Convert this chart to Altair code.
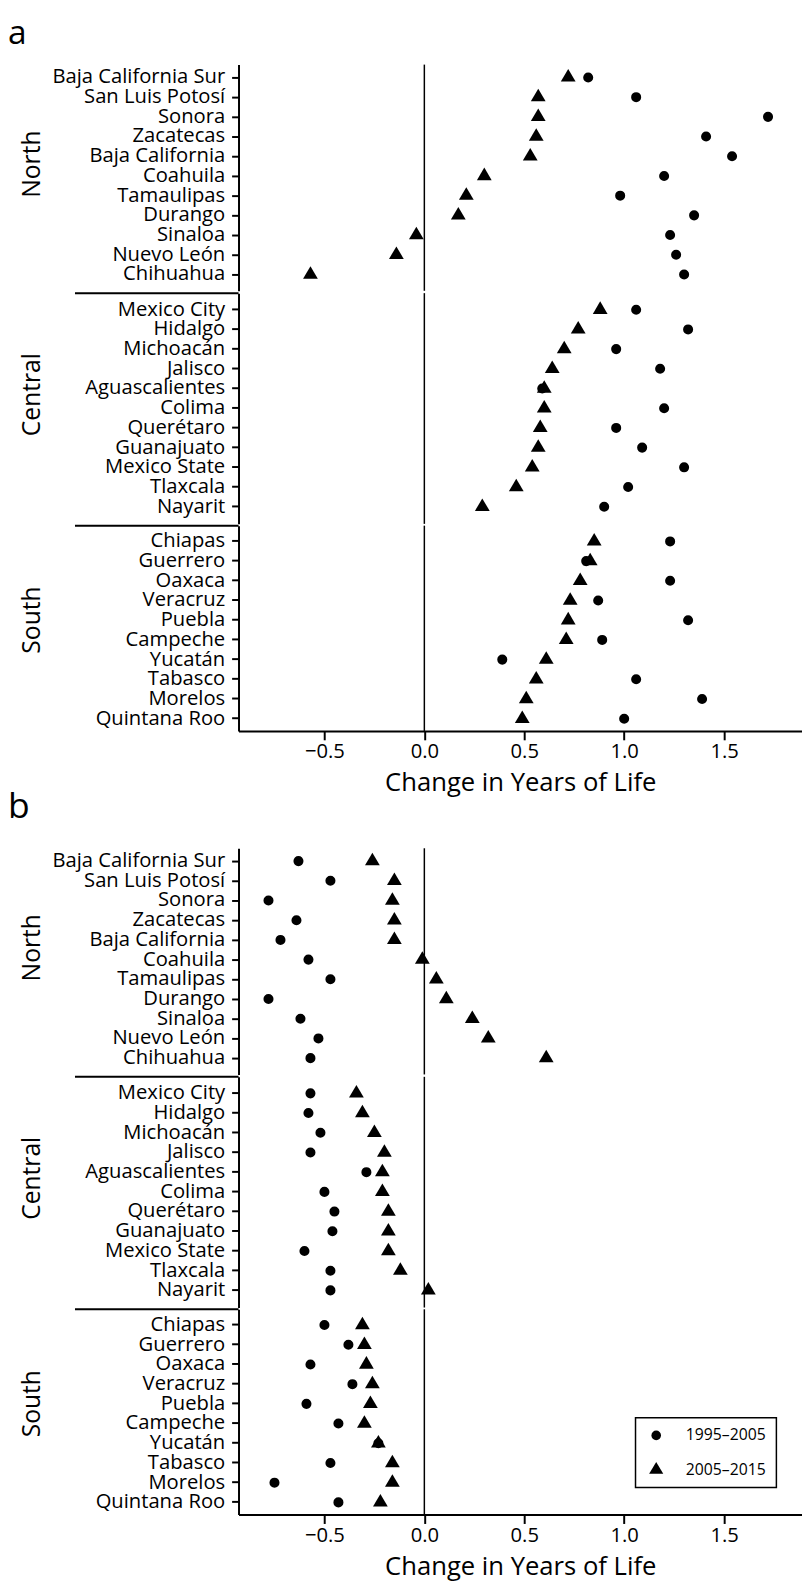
import altair as alt
import pandas as pd

PERIODS = ["1995–2005", "2005–2015"]

NORTH = ["Baja California Sur", "San Luis Potosí", "Sonora", "Zacatecas", "Baja California",
         "Coahuila", "Tamaulipas", "Durango", "Sinaloa", "Nuevo León", "Chihuahua"]
CENTRAL = ["Mexico City", "Hidalgo", "Michoacán", "Jalisco", "Aguascalientes", "Colima",
           "Querétaro", "Guanajuato", "Mexico State", "Tlaxcala", "Nayarit"]
SOUTH = ["Chiapas", "Guerrero", "Oaxaca", "Veracruz", "Puebla", "Campeche", "Yucatán",
         "Tabasco", "Morelos", "Quintana Roo"]

# Panel a
A_1995_NORTH = [0.82, 1.06, 1.72, 1.41, 1.54, 1.20, 0.98, 1.35, 1.23, 1.26, 1.30]
A_2005_NORTH = [0.72, 0.57, 0.57, 0.56, 0.53, 0.30, 0.21, 0.17, -0.04, -0.14, -0.57]
A_1995_CENTRAL = [1.06, 1.32, 0.96, 1.18, 0.59, 1.20, 0.96, 1.09, 1.30, 1.02, 0.90]
A_2005_CENTRAL = [0.88, 0.77, 0.70, 0.64, 0.60, 0.60, 0.58, 0.57, 0.54, 0.46, 0.29]
A_1995_SOUTH = [1.23, 0.81, 1.23, 0.87, 1.32, 0.89, 0.39, 1.06, 1.39, 1.00]
A_2005_SOUTH = [0.85, 0.83, 0.78, 0.73, 0.72, 0.71, 0.61, 0.56, 0.51, 0.49]

# Panel b
B_1995_NORTH = [-0.63, -0.47, -0.78, -0.64, -0.72, -0.58, -0.47, -0.78, -0.62, -0.53, -0.57]
B_2005_NORTH = [-0.26, -0.15, -0.16, -0.15, -0.15, -0.01, 0.06, 0.11, 0.24, 0.32, 0.61]
B_1995_CENTRAL = [-0.57, -0.58, -0.52, -0.57, -0.29, -0.50, -0.45, -0.46, -0.60, -0.47, -0.47]
B_2005_CENTRAL = [-0.34, -0.31, -0.25, -0.20, -0.21, -0.21, -0.18, -0.18, -0.18, -0.12, 0.02]
B_1995_SOUTH = [-0.50, -0.38, -0.57, -0.36, -0.59, -0.43, -0.23, -0.47, -0.75, -0.43]
B_2005_SOUTH = [-0.31, -0.30, -0.29, -0.26, -0.27, -0.30, -0.23, -0.16, -0.16, -0.22]

X_TICKS = [-0.5, 0.0, 0.5, 1.0, 1.5]
X_DOMAIN = [-0.93, 1.89]

FONT = "Open Sans"
TRI = "M0,-1.66L1.47,0.83L-1.47,0.83Z"
W = 572

# height, paddingOuter, align, title y
LAYOUT = {
    "North": (229.6, 0.24, 0.316, 100.5),
    "Central": (234.2, 0.355, 0.479, 102.5),
    "South": (208.4, 0.21, 0.714, 95.3),
}


def make_df(states, v1, v2):
    rows = []
    for s, a, b in zip(states, v1, v2):
        rows.append({"state": s, "period": PERIODS[0], "value": a})
        rows.append({"state": s, "period": PERIODS[1], "value": b})
    return pd.DataFrame(rows)


ONE = pd.DataFrame({"k": [0]})


def sub(df, region, states, bottom, legend):
    H, p, al, ty = LAYOUT[region]
    if bottom:
        xaxis = alt.Axis(title="Change in Years of Life", values=X_TICKS, format=".1f",
                         labelFontSize=20.5, titleFontSize=26, titleFontWeight="normal",
                         tickSize=9, tickWidth=2, domainWidth=2, labelPadding=2,
                         titlePadding=8, labelFlush=False)
    else:
        xaxis = None
    xscale = alt.Scale(domain=X_DOMAIN, nice=False, zero=False)
    yaxis = alt.Axis(title=region, titleX=-202, titleY=ty, titleAngle=270,
                     titleBaseline="alphabetic", titleAlign="center", titleFontSize=25,
                     titleFontWeight="normal", labelFontSize=20.5, tickSize=7, tickWidth=2,
                     domainWidth=2, labelPadding=7)
    if legend:
        leg = alt.Legend(title=None, orient="none", legendX=403, legendY=110,
                         strokeColor="black", padding=10,
                         labelFontSize=16, labelFont=FONT, symbolSize=95,
                         symbolFillColor="black", symbolStrokeWidth=0,
                         symbolOffset=3, labelOffset=22)
    else:
        leg = None
    zero = alt.Chart(ONE).mark_rule(color="black", strokeWidth=1.5).encode(
        x=alt.X(datum=0, type="quantitative", scale=xscale, axis=xaxis))
    pts = alt.Chart(df).mark_point(filled=True, opacity=1, size=104, color="black",
                                   strokeWidth=0).encode(
        x=alt.X("value:Q", scale=xscale, axis=xaxis),
        y=alt.Y("state:N", sort=states,
                scale=alt.Scale(type="band", domain=states, paddingInner=0,
                                paddingOuter=p, align=al),
                axis=yaxis),
        shape=alt.Shape("period:N",
                        scale=alt.Scale(domain=PERIODS, range=["circle", TRI]),
                        legend=leg),
    )
    layers = [zero]
    if region != "North":
        sep = alt.Chart(ONE).mark_rule(color="black", strokeWidth=2).encode(
            x=alt.value(-166), x2=alt.value(0), y=alt.value(0))
        layers.append(sep)
    layers.append(pts)
    return alt.layer(*layers).properties(width=W, height=H)


def panel(letter, n1, n2, c1, c2, s1, s2, with_legend, fsize, offset):
    north = sub(make_df(NORTH, n1, n2), "North", NORTH, False, False)
    central = sub(make_df(CENTRAL, c1, c2), "Central", CENTRAL, False, False)
    south = sub(make_df(SOUTH, s1, s2), "South", SOUTH, True, with_legend)
    return alt.vconcat(north, central, south, spacing=0,
                       title=alt.TitleParams(letter, anchor="start", fontSize=fsize, font=FONT,
                                             fontWeight="normal", dx=-12, offset=offset)
                       ).resolve_scale(shape="independent")


pa = panel("a", A_1995_NORTH, A_2005_NORTH, A_1995_CENTRAL, A_2005_CENTRAL,
           A_1995_SOUTH, A_2005_SOUTH, False, 34, 13.5)
pb = panel("b", B_1995_NORTH, B_2005_NORTH, B_1995_CENTRAL, B_2005_CENTRAL,
           B_1995_SOUTH, B_2005_SOUTH, True, 36, 22)

chart = alt.vconcat(pa, pb, spacing=-6.5).resolve_scale(shape="independent").properties(
    padding={"left": 0, "top": -3.5, "right": 0, "bottom": 0}
).configure_view(stroke=None).configure_axis(
    grid=False, labelFont=FONT, titleFont=FONT, labelColor="black", titleColor="black",
    domainColor="black", tickColor="black"
).configure_legend(labelColor="black", strokeWidth=1.5, rowPadding=18)

chart.save("out.html", embed_options={"renderer": "svg", "actions": False})
